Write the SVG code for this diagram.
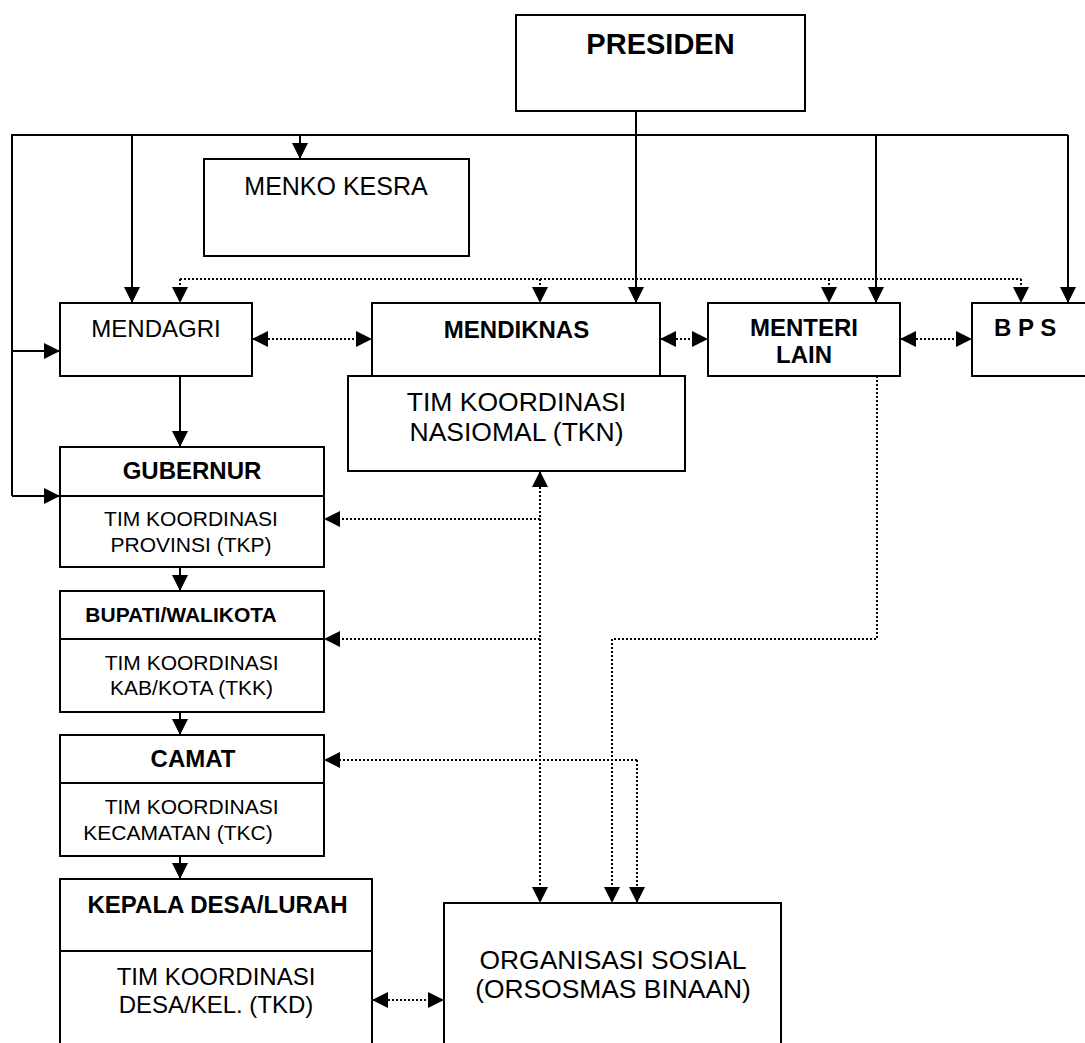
<svg xmlns="http://www.w3.org/2000/svg" width="1085" height="1043" viewBox="0 0 1085 1043">
<style>
.box{fill:#fff;stroke:#000;stroke-width:2}
.div{stroke:#000;stroke-width:2}
.solid{fill:none;stroke:#000;stroke-width:2}
.dot{fill:none;stroke:#000;stroke-width:2;stroke-dasharray:2 2}
text{font-family:"Liberation Sans",Arial,sans-serif;fill:#000;text-anchor:middle}
.b{font-weight:bold}
</style>
<defs>
<marker id="ah" markerUnits="userSpaceOnUse" markerWidth="16" markerHeight="16" refX="16" refY="8" orient="auto-start-reverse" viewBox="0 0 16 16">
<path d="M0,0 L16,8 L0,16 z" fill="#000"/>
</marker>
</defs>
<rect width="1085" height="1043" fill="#fff"/>

<g id="presiden"><rect class="box" x="516" y="15" width="289" height="96"/><text class="b" x="660.5" y="54" font-size="29">PRESIDEN</text></g>
<g id="menko-kesra"><rect class="box" x="204" y="159" width="265" height="97"/><text x="336" y="195" font-size="25">MENKO KESRA</text></g>
<g id="mendagri"><rect class="box" x="60" y="303" width="192" height="73"/><text x="156" y="337" font-size="24">MENDAGRI</text></g>
<g id="mendiknas"><rect class="box" x="372" y="303" width="288" height="73"/><text class="b" x="516.5" y="338" font-size="24">MENDIKNAS</text></g>
<g id="tkn"><rect class="box" x="348" y="376" width="337" height="95"/><text x="516.5" y="411" font-size="26.5">TIM KOORDINASI</text><text x="516.5" y="441" font-size="26.5">NASIOMAL (TKN)</text></g>
<g id="menteri-lain"><rect class="box" x="708" y="303" width="192" height="73"/><text class="b" x="804" y="336" font-size="24">MENTERI</text><text class="b" x="804" y="363" font-size="24">LAIN</text></g>
<g id="bps"><rect class="box" x="972" y="303" width="120" height="73"/><text class="b" x="994" y="336" font-size="24" style="text-anchor:start">B P S</text></g>
<g id="gubernur"><rect class="box" x="60" y="447" width="264" height="120"/><line class="div" x1="60" y1="496" x2="324" y2="496"/><text class="b" x="192" y="479" font-size="24">GUBERNUR</text><text x="191" y="526" font-size="21">TIM KOORDINASI</text><text x="191" y="552" font-size="21">PROVINSI (TKP)</text></g>
<g id="bupati"><rect class="box" x="60" y="591" width="264" height="121"/><line class="div" x1="60" y1="639" x2="324" y2="639"/><text class="b" x="181" y="622" font-size="21">BUPATI/WALIKOTA</text><text x="191.6" y="670" font-size="21">TIM KOORDINASI</text><text x="191.6" y="695" font-size="21">KAB/KOTA (TKK)</text></g>
<g id="camat"><rect class="box" x="60" y="735" width="264" height="121"/><line class="div" x1="60" y1="783" x2="324" y2="783"/><text class="b" x="193" y="767" font-size="24">CAMAT</text><text x="191.6" y="814" font-size="21">TIM KOORDINASI</text><text x="178" y="840" font-size="21">KECAMATAN (TKC)</text></g>
<g id="kepala-desa"><rect class="box" x="60" y="879" width="312" height="180"/><line class="div" x1="60" y1="951" x2="372" y2="951"/><text class="b" x="217.5" y="913" font-size="24">KEPALA DESA/LURAH</text><text x="216" y="985" font-size="24">TIM KOORDINASI</text><text x="216" y="1013" font-size="24">DESA/KEL. (TKD)</text></g>
<g id="orsos"><rect class="box" x="444" y="903" width="337" height="160"/><text x="613" y="969" font-size="26.4">ORGANISASI SOSIAL</text><text x="613" y="998" font-size="26.4">(ORSOSMAS BINAAN)</text></g>

<g id="connectors">
<path class="solid" d="M636,111 V303" marker-end="url(#ah)"/>
<path class="solid" d="M12,496 V135 H1068"/>
<path class="solid" d="M1068,135 V303" marker-end="url(#ah)"/>
<path class="solid" d="M876,135 V303" marker-end="url(#ah)"/>
<path class="solid" d="M132,135 V303" marker-end="url(#ah)"/>
<path class="solid" d="M300,135 V159" marker-end="url(#ah)"/>
<path class="solid" d="M12,351 H60" marker-end="url(#ah)"/>
<path class="solid" d="M12,496 H60" marker-end="url(#ah)"/>
<path class="solid" d="M180,376 V447" marker-end="url(#ah)"/>
<path class="solid" d="M180,567 V591" marker-end="url(#ah)"/>
<path class="solid" d="M180,712 V735" marker-end="url(#ah)"/>
<path class="solid" d="M180,856 V879" marker-end="url(#ah)"/>

<path class="dot" d="M180,279 H1021"/>
<path class="dot" d="M180,279 V303" marker-end="url(#ah)"/>
<path class="dot" d="M540,279 V303" marker-end="url(#ah)"/>
<path class="dot" d="M829,279 V303" marker-end="url(#ah)"/>
<path class="dot" d="M1021,279 V303" marker-end="url(#ah)"/>

<path class="dot" d="M252,339 H372" marker-start="url(#ah)" marker-end="url(#ah)"/>
<path class="dot" d="M660,339 H708" marker-start="url(#ah)" marker-end="url(#ah)"/>
<path class="dot" d="M900,339 H972" marker-start="url(#ah)" marker-end="url(#ah)"/>
<path class="dot" d="M372,1000 H444" marker-start="url(#ah)" marker-end="url(#ah)"/>

<path class="dot" d="M540,471 V903" marker-start="url(#ah)" marker-end="url(#ah)"/>
<path class="dot" d="M540,519 H324" marker-end="url(#ah)"/>
<path class="dot" d="M540,639 H324" marker-end="url(#ah)"/>
<path class="dot" d="M637,760 H324" marker-end="url(#ah)"/>
<path class="dot" d="M637,760 V903" marker-end="url(#ah)"/>
<path class="dot" d="M877,376 V639 H612 V903" marker-end="url(#ah)"/>
</g>
</svg>
